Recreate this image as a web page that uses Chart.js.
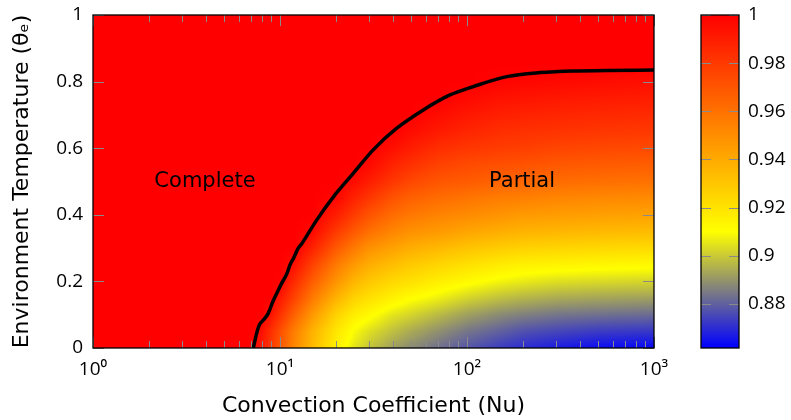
<!DOCTYPE html>
<html>
<head>
<meta charset="utf-8">
<script src="https://cdn.jsdelivr.net/npm/chart.js@4.4.0/dist/chart.umd.min.js"></script>
<style>html,body{margin:0;padding:0;background:#fff}#wrap{width:791px;height:420px}</style>
</head>
<body>
<div id="wrap"><canvas id="c" width="791" height="420"></canvas></div>
<script>
// ---------------- data ----------------
const nuGrid    = [1, 5, 7, 8, 9, 10, 12, 15, 20, 25, 30, 40, 50, 70, 100, 150, 200, 300, 500, 1000];
const thetaGrid = [0, 0.05, 0.1, 0.15, 0.2, 0.25, 0.3, 0.35, 0.4, 0.45, 0.5, 0.55, 0.6, 0.65, 0.7, 0.75, 0.8, 0.85, 0.9, 0.95, 1.0];

// field value for each theta row (columns follow nuGrid)
const f000 = [1,1,1,.991,.979,.969,.952,.934,.915,.905,.899,.892,.888,.883,.878,.873,.870,.867,.864,.863];
const f005 = [1,1,1,.995,.983,.973,.955,.937,.919,.909,.904,.898,.894,.889,.884,.880,.877,.875,.873,.872];
const f010 = [1,1,1,1,.993,.983,.965,.946,.926,.916,.912,.905,.902,.897,.892,.888,.886,.884,.883,.882];
const f015 = [1,1,1,1,1,.992,.976,.957,.937,.926,.921,.915,.911,.907,.902,.898,.896,.894,.893,.892];
const f020 = [1,1,1,1,1,.999,.985,.967,.948,.936,.930,.924,.921,.916,.912,.908,.906,.904,.903,.902];
const f025 = [1,1,1,1,1,1,.994,.977,.957,.946,.939,.933,.929,.925,.921,.917,.915,.914,.913,.912];
const f030 = [1,1,1,1,1,1,1,.988,.969,.957,.949,.943,.939,.935,.931,.928,.926,.925,.924,.923];
const f035 = [1,1,1,1,1,1,1,.997,.980,.969,.961,.953,.949,.946,.942,.939,.937,.936,.935,.934];
const f040 = [1,1,1,1,1,1,1,1,.990,.979,.971,.962,.958,.954,.951,.948,.946,.945,.944,.943];
const f045 = [1,1,1,1,1,1,1,1,.998,.988,.981,.971,.966,.962,.959,.956,.955,.953,.952,.951];
const f050 = [1,1,1,1,1,1,1,1,1,.996,.990,.981,.975,.970,.968,.965,.964,.962,.961,.960];
const f055 = [1,1,1,1,1,1,1,1,1,1,.997,.988,.983,.977,.974,.972,.971,.969,.968,.967];
const f060 = [1,1,1,1,1,1,1,1,1,1,1,.995,.990,.984,.981,.979,.978,.976,.975,.974];
const f065 = [1,1,1,1,1,1,1,1,1,1,1,1,.996,.991,.987,.984,.983,.982,.981,.980];
const f070 = [1,1,1,1,1,1,1,1,1,1,1,1,1,.996,.992,.989,.988,.987,.986,.985];
const f075 = [1,1,1,1,1,1,1,1,1,1,1,1,1,1,.997,.994,.993,.992,.991,.990];
const f080 = [1,1,1,1,1,1,1,1,1,1,1,1,1,1,1,.999,.998,.997,.996,.995];
const f085 = [1,1,1,1,1,1,1,1,1,1,1,1,1,1,1,1,1,1,1,1];
const f090 = [1,1,1,1,1,1,1,1,1,1,1,1,1,1,1,1,1,1,1,1];
const f095 = [1,1,1,1,1,1,1,1,1,1,1,1,1,1,1,1,1,1,1,1];
const f100 = [1,1,1,1,1,1,1,1,1,1,1,1,1,1,1,1,1,1,1,1];

// boundary between complete and partial
const contourNu    = [7.2, 7.5, 7.75, 8.15, 8.65, 9.15, 9.6, 10.2, 10.9, 11.3, 11.8, 12.5, 13.1, 15.7, 19.3, 24.7, 31.5, 42.1, 58.4, 81.1, 108, 163, 245, 369, 558, 1000];
const contourTheta = [0, 0.044, 0.069, 0.084, 0.104, 0.139, 0.164, 0.194, 0.224, 0.249, 0.269, 0.299, 0.314, 0.384, 0.454, 0.525, 0.595, 0.66, 0.715, 0.76, 0.785, 0.815, 0.827, 0.832, 0.833, 0.835];

const xTickValues  = [1, 10, 100, 1000];
const xTickLabels  = ['10\u2070', '10\u00B9', '10\u00B2', '10\u00B3'];
const xMinorValues = [2,3,4,5,6,7,8,9,20,30,40,50,60,70,80,90,200,300,400,500,600,700,800,900];
const yTickValues  = [0, 0.2, 0.4, 0.6, 0.8, 1];
const cbTickValues = [0.88, 0.9, 0.92, 0.94, 0.96, 0.98, 1];
const cbMin = 0.8617, cbMax = 1;

const regionLabels = ['Complete', 'Partial'];
const regionNu     = [3.97, 197];
const regionTheta  = [0.5, 0.5];

// ---------------- helpers ----------------
const gridRows = [f000,f005,f010,f015,f020,f025,f030,f035,f040,f045,f050,f055,f060,f065,f070,f075,f080,f085,f090,f095,f100];
const aGrid = nuGrid.map(v => Math.log10(v));
const FONT = "'Open Sans', 'DejaVu Sans', sans-serif";
const TFONT = "'DejaVu Sans', sans-serif";

function clamp(v, lo, hi) { return v < lo ? lo : v > hi ? hi : v; }
function locate(arr, v) {
  let i = 0;
  while (i < arr.length - 2 && v > arr[i + 1]) i++;
  const u = clamp((v - arr[i]) / (arr[i + 1] - arr[i]), 0, 1);
  return [i, u];
}
function colorOf(v) {
  const t = clamp((v - cbMin) / (cbMax - cbMin), 0, 1);
  if (t < 0.35) { const u = t / 0.35; return [255 * u, 255 * u, 255 * (1 - u)]; }
  const u = (t - 0.35) / 0.65;
  return [255, 255 * (1 - u), 0];
}

const heatPlugin = {
  id: 'heat',
  beforeDatasetsDraw(chart) {
    const { ctx, chartArea: ca, scales: { x, y } } = chart;
    const L = Math.round(ca.left), T = Math.round(ca.top);
    const W = Math.round(ca.right) - L, H = Math.round(ca.bottom) - T;
    const off = document.createElement('canvas');
    off.width = W; off.height = H;
    const octx = off.getContext('2d');
    const img = octx.createImageData(W, H);
    const cols = [];
    for (let px = 0; px < W; px++) cols.push(locate(aGrid, Math.log10(x.getValueForPixel(L + px + 0.5))));
    for (let py = 0; py < H; py++) {
      const [j, v] = locate(thetaGrid, y.getValueForPixel(T + py + 0.5));
      const r0 = gridRows[j], r1 = gridRows[j + 1];
      for (let px = 0; px < W; px++) {
        const [i, u] = cols[px];
        const val = (1 - u) * (1 - v) * r0[i] + u * (1 - v) * r0[i + 1] + (1 - u) * v * r1[i] + u * v * r1[i + 1];
        const c = colorOf(val);
        const k = (py * W + px) * 4;
        img.data[k] = c[0]; img.data[k + 1] = c[1]; img.data[k + 2] = c[2]; img.data[k + 3] = 255;
      }
    }
    octx.putImageData(img, 0, 0);
    ctx.drawImage(off, L, T);
  },
  afterDatasetsDraw(chart) {
    const { ctx, chartArea: ca, scales: { x, y, cb } } = chart;
    ctx.save();
    // region labels
    ctx.fillStyle = '#000';
    ctx.font = '21px ' + TFONT;
    ctx.textAlign = 'center';
    ctx.textBaseline = 'middle';
    regionLabels.forEach((t, i) => ctx.fillText(t, x.getPixelForValue(regionNu[i]), y.getPixelForValue(regionTheta[i])));
    // ticks
    ctx.strokeStyle = '#8a8a8a';
    ctx.lineWidth = 1;
    ctx.beginPath();
    const tick = (x0, y0, x1, y1) => { ctx.moveTo(x0, y0); ctx.lineTo(x1, y1); };
    xTickValues.forEach(v => { const p = Math.round(x.getPixelForValue(v)) + 0.5; tick(p, ca.bottom, p, ca.bottom - 11); tick(p, ca.top, p, ca.top + 11); });
    xMinorValues.forEach(v => { const p = Math.round(x.getPixelForValue(v)) + 0.5; tick(p, ca.bottom, p, ca.bottom - 7); tick(p, ca.top, p, ca.top + 7); });
    yTickValues.forEach(v => { const p = Math.round(y.getPixelForValue(v)) + 0.5; tick(ca.left, p, ca.left + 11, p); tick(ca.right, p, ca.right - 11, p); });
    ctx.stroke();
    // frame
    ctx.strokeStyle = '#000';
    ctx.lineWidth = 1.3;
    ctx.strokeRect(ca.left, ca.top, ca.right - ca.left, ca.bottom - ca.top);
    // colorbar
    const cbL = ca.right + 47, cbR = cbL + 38;
    const yTop = cb.getPixelForValue(cbMax), yBot = cb.getPixelForValue(cbMin);
    const g = ctx.createLinearGradient(0, yBot, 0, yTop);
    g.addColorStop(0, 'rgb(0,0,255)');
    g.addColorStop(0.35, 'rgb(255,255,0)');
    g.addColorStop(1, 'rgb(255,0,0)');
    ctx.fillStyle = g;
    ctx.fillRect(cbL, yTop, cbR - cbL, yBot - yTop);
    ctx.strokeStyle = '#8a8a8a';
    ctx.lineWidth = 1;
    ctx.beginPath();
    cbTickValues.forEach(v => { const p = Math.round(cb.getPixelForValue(v)) + 0.5; tick(cbL, p, cbL + 10, p); tick(cbR, p, cbR - 10, p); });
    ctx.stroke();
    ctx.strokeStyle = '#000';
    ctx.lineWidth = 1.3;
    ctx.strokeRect(cbL, yTop, cbR - cbL, yBot - yTop);
    ctx.restore();
  }
};

new Chart(document.getElementById('c'), {
  type: 'scatter',
  data: {
    datasets: [{
      type: 'line',
      data: contourNu.map((v, i) => ({ x: v, y: contourTheta[i] })),
      borderColor: '#000',
      borderWidth: 3.5,
      pointRadius: 0,
      cubicInterpolationMode: 'monotone',
      fill: false,
      xAxisID: 'x',
      yAxisID: 'y'
    }]
  },
  options: {
    responsive: false,
    animation: false,
    devicePixelRatio: 1,
    layout: { padding: { top: 15, left: 0, right: 0, bottom: 0 } },
    plugins: { legend: { display: false }, tooltip: { enabled: false } },
    scales: {
      x: {
        type: 'logarithmic', position: 'bottom', min: 1, max: 1000,
        grid: { display: false, drawTicks: false }, border: { display: false },
        afterBuildTicks: s => { s.ticks = xTickValues.map(v => ({ value: v, major: true })); },
        ticks: { autoSkip: false, maxRotation: 0, padding: 10, color: '#000', font: { family: FONT, size: 19 },
                 callback: v => { const i = xTickValues.indexOf(v); return i >= 0 ? xTickLabels[i] : ''; } },
        title: { display: true, text: 'Convection Coefficient (Nu)', color: '#000', font: { family: TFONT, size: 22 }, padding: { top: 0, bottom: 1 } },
        afterFit: s => { s.height = 72; s.paddingLeft = 0; s.paddingRight = 0; }
      },
      y: {
        type: 'linear', position: 'left', min: 0, max: 1,
        grid: { display: false, drawTicks: false }, border: { display: false },
        afterBuildTicks: s => { s.ticks = yTickValues.map(v => ({ value: v })); },
        ticks: { padding: 10, color: '#000', font: { family: FONT, size: 19 }, callback: v => String(Math.round(v * 100) / 100) },
        title: { display: true, text: 'Environment Temperature (\u03B8\u2091)', color: '#000', font: { family: TFONT, size: 22 }, padding: { top: 9, bottom: 0 } },
        afterFit: s => { s.width = 93; s.paddingTop = 0; s.paddingBottom = 0; }
      },
      cb: {
        type: 'linear', position: 'right', min: cbMin, max: cbMax,
        grid: { display: false, drawTicks: false }, border: { display: false },
        afterBuildTicks: s => { s.ticks = cbTickValues.map(v => ({ value: v })); },
        ticks: { padding: 94, color: '#000', font: { family: FONT, size: 19 }, callback: v => String(Math.round(v * 100) / 100) },
        afterFit: s => { s.width = 137; s.paddingTop = 0; s.paddingBottom = 0; }
      }
    }
  },
  plugins: [heatPlugin]
});
</script>
</body>
</html>
